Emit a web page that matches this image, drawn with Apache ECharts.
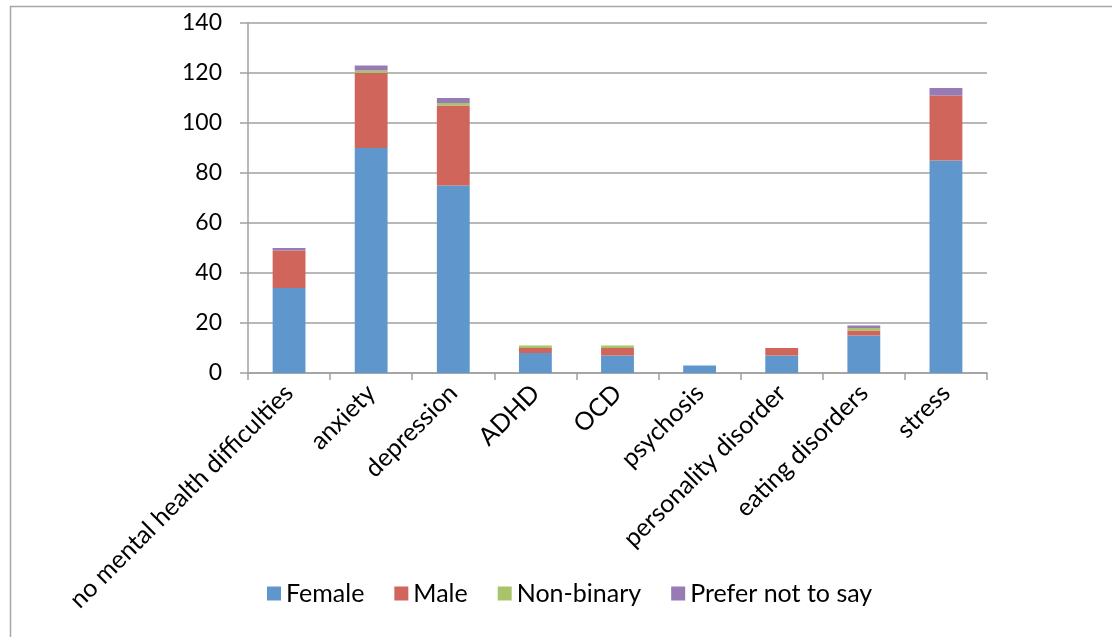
<!DOCTYPE html>
<html>
<head>
<meta charset="utf-8">
<script src="https://cdn.jsdelivr.net/npm/echarts@6/dist/echarts.min.js"></script>
<style>
html,body{margin:0;padding:0;background:#fff;}
#chart{width:1112px;height:637px;}
</style>
</head>
<body>
<div id="chart"></div>
<script>
const categories = ["no mental health difficulties","anxiety","depression","ADHD","OCD","psychosis","personality disorder","eating disorders","stress"];
const female = [34, 90, 75, 8, 7, 3, 7, 15, 85];
const male = [15, 30, 32, 2, 3, 0, 3, 2, 26];
const nonBinary = [0, 1, 1, 1, 1, 0, 0, 1, 0];
const preferNot = [1, 2, 2, 0, 0, 0, 0, 1, 3];
const yTicks = {min: 0, max: 140, interval: 20};

const font = "Lato, 'Open Sans', sans-serif";
const chart = echarts.init(document.getElementById('chart'));
function s(name, data, color) {
  return {name, type: 'bar', stack: 'total', data, barWidth: '40%',
    itemStyle: {color}, emphasis: {disabled: true}};
}
chart.setOption({
  animation: false,
  graphic: [{type: 'rect', shape: {x: 10.5, y: 6.5, width: 1300, height: 800},
    style: {fill: 'none', stroke: '#a6a6a6', lineWidth: 1.5}, z: -1}],
  grid: {left: 248, right: 125, top: 23, bottom: 264},
  legend: {
    top: 576, left: 262, itemWidth: 14, itemHeight: 14, itemGap: 30,
    icon: 'rect', textStyle: {fontFamily: font, fontSize: 25, color: '#000'},
    data: ['Female', 'Male', 'Non-binary', 'Prefer not to say']
  },
  xAxis: {
    type: 'category', data: categories,
    axisLine: {lineStyle: {color: '#a0a0a0', width: 1.5}},
    axisTick: {show: true, length: 7, lineStyle: {color: '#a0a0a0', width: 1.5}},
    axisLabel: {rotate: 45, interval: 0, fontFamily: font, fontSize: 25, color: '#000', margin: 16}
  },
  yAxis: {
    type: 'value', min: yTicks.min, max: yTicks.max, interval: yTicks.interval,
    axisLine: {show: true, lineStyle: {color: '#a0a0a0', width: 1.5}},
    axisTick: {show: true, length: 8, lineStyle: {color: '#a0a0a0', width: 1.5}},
    splitLine: {lineStyle: {color: '#a0a0a0', width: 1.5}},
    axisLabel: {fontFamily: font, fontSize: 23, color: '#000', margin: 26}
  },
  series: [
    s('Female', female, '#5F97CD'),
    s('Male', male, '#D0665B'),
    s('Non-binary', nonBinary, '#A8C46A'),
    s('Prefer not to say', preferNot, '#967BB5')
  ]
});
</script>
</body>
</html>
